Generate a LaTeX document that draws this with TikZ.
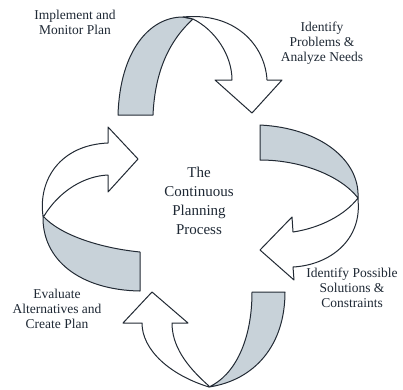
\documentclass[tikz,border=0pt]{standalone}
\usepackage{fontspec}
\setmainfont{Liberation Serif}
\usepackage{xcolor}
\usepackage{tikz}
\usetikzlibrary{positioning}

\definecolor{inkline}{RGB}{34,42,52}
\definecolor{inktext}{RGB}{30,40,52}
\definecolor{backside}{RGB}{200,210,217}

\begin{document}
\begin{tikzpicture}[x=1pt, y=-1pt,
    band/.style={draw=inkline, line width=1pt, fill=backside, line join=round},
    face/.style={draw=inkline, line width=1pt, fill=white, line join=round},
    steplabel/.style={align=center, text=inktext, font=\fontsize{13.5}{15}\selectfont, inner sep=0pt},
    hublabel/.style={align=center, text=inktext, font=\fontsize{15}{19}\selectfont, inner sep=0pt}]
    \useasboundingbox (0,0) rectangle (403,389);

    % top arrow
    \draw [band] (118,115) -- (153,115) .. controls (155,70) and (170,40) .. (193,19)
        -- (183,17) .. controls (150,17) and (120,50) .. (118,115) -- cycle;
    \draw [face] (183,17) .. controls (235,12) and (265,45) .. (267,80) -- (282,80) -- (252,113)
        -- (215,80) -- (232,80) .. controls (232,55) and (215,30) .. (193,19) -- cycle;

    % right arrow
    \draw [band] (260,125) .. controls (320,128) and (360,160) .. (358,198)
        .. controls (340,175) and (300,160) .. (260,160) -- cycle;
    \draw [face] (358,198) .. controls (345,215) and (320,228) .. (293,232) -- (292,217) -- (260,250)
        -- (294,280) -- (293,267) .. controls (330,265) and (362,240) .. (358,200) -- cycle;

    % bottom arrow
    \draw [band] (252,292) -- (285,292) .. controls (285,345) and (255,380) .. (209,387)
        .. controls (235,375) and (252,340) .. (252,292) -- cycle;
    \draw [face] (209,387) .. controls (170,375) and (142,350) .. (142,323) -- (123,323) -- (152,292)
        -- (188,323) -- (172,323) .. controls (172,345) and (185,365) .. (209,386) -- cycle;

    % left arrow
    \draw [band] (140,252) -- (140,291) .. controls (80,290) and (42,260) .. (43,216)
        .. controls (60,235) and (100,248) .. (140,252) -- cycle;
    \draw [face] (43,216) .. controls (38,180) and (60,145) .. (108,143) -- (108,127) -- (138,159)
        -- (108,192) -- (108,175) .. controls (85,176) and (60,190) .. (44,216) -- cycle;

    % labels
    \node (hub) [hublabel] at (199,201) {The\\Continuous\\Planning\\Process};
    \node (implement) [steplabel] at (75,22) {Implement and\\Monitor Plan};
    \node (problems) [steplabel] at (322,43) {Identify\\Problems \&\\Analyze Needs};
    \node (solutions) [steplabel] at (352,288) {Identify Possible\\Solutions \&\\Constraints};
    \node (evaluate) [steplabel] at (57,309) {Evaluate\\Alternatives and\\Create Plan};
\end{tikzpicture}
\end{document}
